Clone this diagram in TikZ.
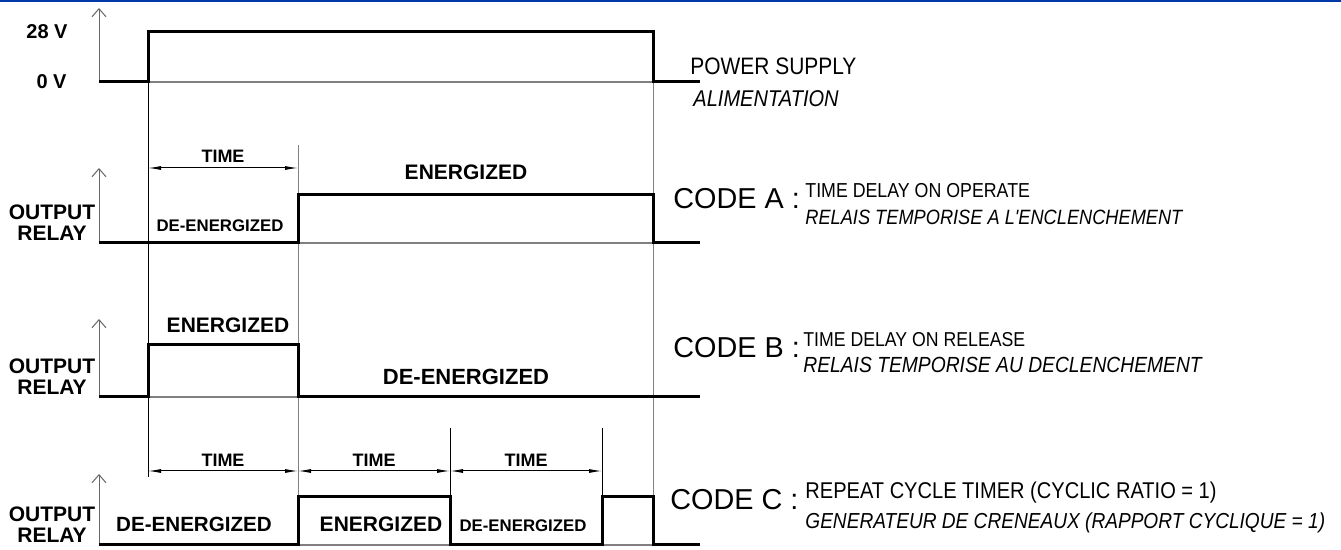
\documentclass[tikz,border=0pt]{standalone}
\usepackage{fontspec}
\setmainfont{Liberation Sans}
\newfontfamily\narrowsans[FakeStretch=0.88]{Liberation Sans}
\usetikzlibrary{arrows.meta}
\definecolor{rulebl}{RGB}{0,56,168}

\begin{document}
\begin{tikzpicture}[x=0.5pt,y=-0.5pt,
	sig/.style={line width=1.5pt},
	zeroln/.style={line width=0.6pt,gray},
	guide/.style={line width=0.5pt},
	axis/.style={line width=0.5pt,gray!80!black,-{Straight Barb[length=4pt,width=7pt]}},
	dim/.style={line width=0.5pt,{Latex[length=6.5pt,width=2pt]}-{Latex[length=6.5pt,width=2pt]}},
	lab/.style={font=\bfseries\fontsize{10.5}{10.5}\selectfont,inner sep=0pt,anchor=base},
	lblsm/.style={lab,font=\bfseries\fontsize{8.4}{8.4}\selectfont},
	timelbl/.style={lab,font=\bfseries\fontsize{9}{9}\selectfont},
	volt/.style={lab,anchor=base east,font=\bfseries\fontsize{10}{10}\selectfont},
	codetxt/.style={font=\fontsize{14.4}{14.4}\selectfont,inner sep=0pt,anchor=base west},
	desc/.style={font=\narrowsans\fontsize{10.1}{10.1}\selectfont,inner sep=0pt,anchor=base west},
	desci/.style={desc,font=\narrowsans\itshape\fontsize{10.35}{10.35}\selectfont}]
	\useasboundingbox (0,0) rectangle (1341,550);
	\draw[rulebl,line width=1pt] (0,1) -- (1341,1);

	\draw[guide] (148,82) -- (148,477);
	\draw[guide,gray] (298,145) -- (298,545);
	\draw[guide,gray] (653,82) -- (653,497);
	\draw[guide] (450,428) -- (450,497);
	\draw[guide] (602,428) -- (602,497);

	\draw[zeroln] (148,82) -- (653,82);
	\draw[zeroln] (298,243) -- (653,243);
	\draw[zeroln] (148,397) -- (298,397);
	\draw[zeroln] (298,545) -- (450,545) (602,545) -- (653,545);

	\draw[axis] (99,82) -- (99,8);
	\draw[axis] (99,243) -- (99,168);
	\draw[axis] (99,397) -- (99,319);
	\draw[axis] (99,545) -- (99,474);

	\draw[sig] (99,82) -- (148,82) -- (148,32) -- (653,32) -- (653,82) -- (700,82);
	\draw[sig] (99,243) -- (298,243) -- (298,195) -- (653,195) -- (653,243) -- (700,243);
	\draw[sig] (99,397) -- (148,397) -- (148,345) -- (298,345) -- (298,397) -- (700,397);
	\draw[sig] (99,545) -- (298,545) -- (298,497) -- (450,497) -- (450,545) -- (602,545)
		-- (602,497) -- (653,497) -- (653,545) -- (700,545);

	\draw[dim] (148,168) -- (298,168);
	\draw[dim] (148,471) -- (298,471);
	\draw[dim] (298,471) -- (450,471);
	\draw[dim] (450,471) -- (602,471);

	\node[volt] (v28) at (68,39) {28 V};
	\node[volt] (v0) at (67,89) {0 V};
	\node[desc,font=\narrowsans\fontsize{11.9}{11.9}\selectfont] (psu) at (690,75) {POWER SUPPLY};
	\node[desci,font=\narrowsans\itshape\fontsize{11.4}{11.4}\selectfont] (alim) at (693,107) {ALIMENTATION};

	\node[lab] (outA) at (52,220) {OUTPUT};
	\node[lab] (relA) at (52,241) {RELAY};
	\node[timelbl] (timeA) at (223,163) {TIME};
	\node[lab] (enA) at (466,180) {ENERGIZED};
	\node[lblsm] (deA) at (220,232) {DE-ENERGIZED};
	\node[codetxt] (codeA) at (673,209) {CODE A :};
	\node[desc] (opA) at (805,198) {TIME DELAY ON OPERATE};
	\node[desci] (frA) at (805,225) {RELAIS TEMPORISE A L'ENCLENCHEMENT};

	\node[lab] (outB) at (52,374) {OUTPUT};
	\node[lab] (relB) at (52,395) {RELAY};
	\node[lab] (enB) at (228,333) {ENERGIZED};
	\node[lab,font=\bfseries\fontsize{11}{11}\selectfont] (deB) at (466,385) {DE-ENERGIZED};
	\node[codetxt] (codeB) at (673,358) {CODE B :};
	\node[desc,font=\narrowsans\fontsize{10.05}{10.05}\selectfont] (opB) at (803,347) {TIME DELAY ON RELEASE};
	\node[desci,font=\narrowsans\itshape\fontsize{10.95}{10.95}\selectfont] (frB) at (803,373) {RELAIS TEMPORISE AU DECLENCHEMENT};

	\node[lab] (outC) at (52,522) {OUTPUT};
	\node[lab] (relC) at (52,543) {RELAY};
	\node[timelbl] (timeC1) at (223,467) {TIME};
	\node[timelbl] (timeC2) at (374,467) {TIME};
	\node[timelbl] (timeC3) at (526,467) {TIME};
	\node[lab,font=\bfseries\fontsize{10.3}{10.3}\selectfont] (deC1) at (194,532) {DE-ENERGIZED};
	\node[lab] (enC) at (381,532) {ENERGIZED};
	\node[lblsm] (deC2) at (523,532) {DE-ENERGIZED};
	\node[codetxt] (codeC) at (670,510) {CODE C :};
	\node[desc,font=\narrowsans\fontsize{11.4}{11.4}\selectfont] (opC) at (805,499) {REPEAT CYCLE TIMER (CYCLIC RATIO = 1)};
	\node[desci,font=\narrowsans\itshape\fontsize{10.85}{10.85}\selectfont] (frC) at (805,529) {GENERATEUR DE CRENEAUX (RAPPORT CYCLIQUE = 1)};
\end{tikzpicture}
\end{document}
